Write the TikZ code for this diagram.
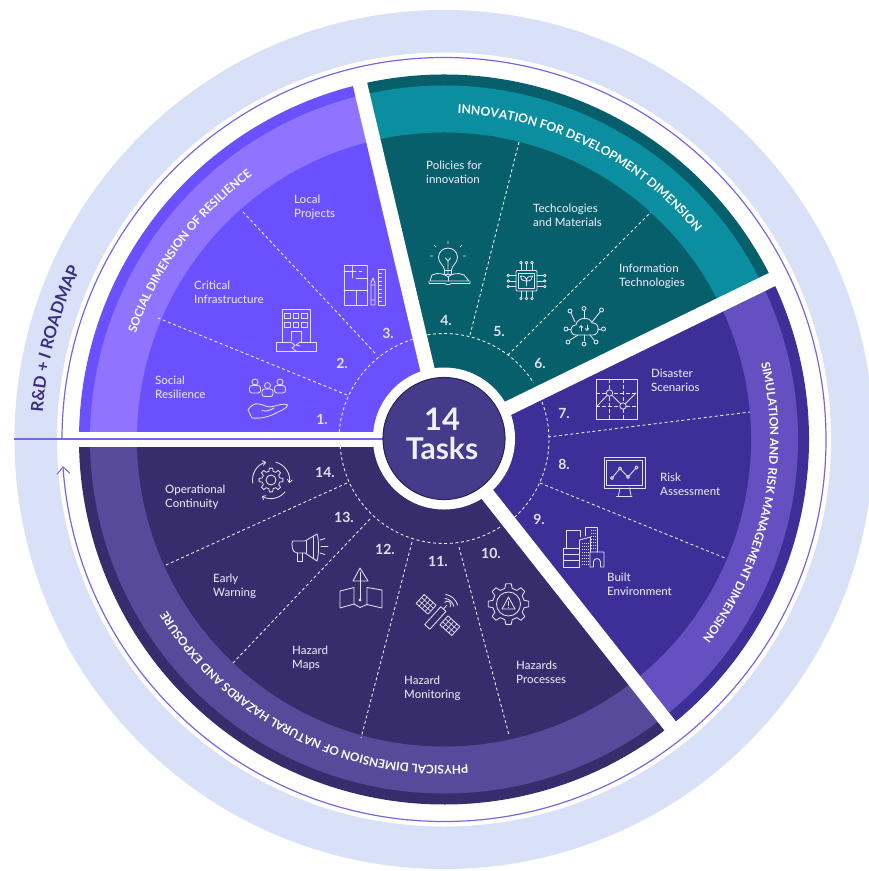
\documentclass[tikz,border=0pt]{standalone}
\usepackage{fontspec}
\setmainfont{Lato}
\newfontfamily\labfont{Lato Medium}
\usetikzlibrary{decorations.text,arrows.meta}
\definecolor{ringc}{HTML}{D9E1F8}
\definecolor{linec}{HTML}{7A66E0}
\definecolor{vedge}{HTML}{6A50FF}
\definecolor{vband}{HTML}{9074FF}
\definecolor{tedge}{HTML}{075F6C}
\definecolor{tband}{HTML}{0A8EA0}
\definecolor{pedge}{HTML}{3E2E98}
\definecolor{pband}{HTML}{6450C0}
\definecolor{dedge}{HTML}{372C6C}
\definecolor{dband}{HTML}{584A9A}
\definecolor{corec}{HTML}{463A8A}
\definecolor{coreline}{HTML}{2C2559}
\definecolor{labc}{HTML}{E4E2F2}
\definecolor{roadc}{HTML}{3B2F7F}
\newcommand{\wdg}[4]{\fill[#1] (0,0) -- (#2:#4) arc[start angle=#2,end angle=#3,radius=#4] -- cycle;}
\newcommand{\bandtext}[4]{\path[decorate,decoration={text along path,text align=center,text={|\fontsize{#4}{13}\selectfont\bfseries\color{white}|#3}}] (#1:326) arc[start angle=#1,end angle=#2,radius=326];}
\newcommand{\gearshape}[3]{\pgfmathsetmacro{\gw}{360/#3}\draw[icon] ({-0.30*\gw}:#2) \foreach \gi in {1,...,#3} { -- ({(\gi-1)*\gw-0.17*\gw}:#1) -- ({(\gi-1)*\gw+0.17*\gw}:#1) -- ({(\gi-1)*\gw+0.30*\gw}:#2) -- ({\gi*\gw-0.30*\gw}:#2)} -- cycle;}
\tikzset{
 lab/.style={anchor=west,align=left,inner sep=0pt,text=labc,font=\labfont\fontsize{11.5}{14}\selectfont},
 num/.style={inner sep=0pt,text=labc,font=\fontsize{14}{16}\selectfont\bfseries},
 dashl/.style={draw=white,line width=0.9pt,dash pattern=on 3pt off 2.6pt,opacity=0.9},
 icon/.style={draw=labc,line width=0.85pt,line join=round,line cap=round},
 gapline/.style={draw=white,line width=14.5pt}
}
\begin{document}
\begin{tikzpicture}[x=1pt,y=-1pt]
\useasboundingbox (0,0) rectangle (869,871);
\clip (0,0) rectangle (869,871);
\fill[white] (0,0) rectangle (869,871);
\begin{scope}[shift={(444,439.5)}]
\fill[ringc] (0,0) circle[radius=429.5];
\fill[white] (0,0) circle[radius=387];
\draw[linec,line width=1.2pt,-{Straight Barb[length=7pt,width=13pt,line width=1pt]}] (180:382) arc[start angle=180,end angle=536,radius=382];
% sectors
\wdg{vedge}{180}{256.7}{365}\wdg{vband}{180}{256.7}{354}\wdg{vedge}{180}{256.7}{307}
\wdg{tedge}{256.7}{334}{365}\wdg{tband}{256.7}{334}{354}\wdg{tedge}{256.7}{334}{307}
\wdg{pedge}{334}{411.7}{365}\wdg{pband}{334}{411.7}{354}\wdg{pedge}{334}{411.7}{307}
\wdg{dedge}{51.7}{180}{365}\wdg{dband}{51.7}{180}{354}\wdg{dedge}{51.7}{180}{307}
% white gaps
\draw[gapline] (0,0) -- (180:372);
\draw[gapline] (0,0) -- (256.7:372);
\draw[gapline] (0,0) -- (334:372);
\draw[gapline] (0,0) -- (51.7:372);
\fill[white] (0,-1) circle[radius=71];
% band titles
\bandtext{185}{248}{SOCIAL DIMENSION OF RESILIENCE}{11.8}
\bandtext{258}{335}{INNOVATION FOR DEVELOPMENT DIMENSION}{12.2}
\bandtext{-33}{57}{SIMULATION AND RISK MANAGEMENT DIMENSION}{11.8}
\bandtext{62}{172}{PHYSICAL DIMENSION OF NATURAL HAZARDS AND EXPOSURE}{11.8}
\path[decorate,decoration={text along path,text align=center,text={|\fontsize{16.8}{18}\selectfont\bfseries\color{roadc}|R{\&}D + |\fontsize{16.8}{18}\selectfont\bfseries\itshape\color{roadc}|I|\fontsize{16.8}{18}\selectfont\bfseries\color{roadc}| ROADMAP}}] (176:402) arc[start angle=176,end angle=213,radius=402];
% dashed inner arcs
\draw[dashl] (184:105) arc[start angle=184,end angle=252.5,radius=105];
\draw[dashl] (261:106) arc[start angle=261,end angle=327.6,radius=106];
\draw[dashl] (339:105) arc[start angle=339,end angle=408.7,radius=105];
\draw[dashl] (57.4:104) arc[start angle=57.4,end angle=176,radius=104];
\end{scope}
% dashed dividers
\draw[dashl] (347,395) -- (158,318);
\draw[dashl] (375,353) -- (243,212);
\draw[dashl] (470,335) -- (519,142);
\draw[dashl] (508,355) -- (651,212);
\draw[dashl] (548,437) -- (750,412);
\draw[dashl] (540,483) -- (725,558);
\draw[dashl] (347,483) -- (166,565);
\draw[dashl] (370,519) -- (233,663);
\draw[dashl] (412,542) -- (361,738);
\draw[dashl] (459,547) -- (509,735);
% horizontal line and centre
\draw[linec,line width=1.4pt] (14,439) -- (384,439);
\node[circle,minimum size=122pt,inner sep=0pt,fill=corec,draw=coreline,line width=1.1pt] (core) at (444,438.5) {};
\node[inner sep=0pt,text=labc!50!white,font=\fontsize{31}{31}\selectfont\bfseries] (t14) at (442,419) {14};
\node[inner sep=0pt,text=labc!50!white,font=\fontsize{30}{30}\selectfont\bfseries] (ttasks) at (442,448) {Tasks};
% labels
\node[lab] (l1) at (155,387.7) {Social\\Resilience};
\node[lab] (l2) at (194,292) {Critical\\Infrastructure};
\node[lab] (l3) at (294,207) {Local\\Projects};
\node[lab] (l4) at (426,172) {Policies for\\innovation};
\node[lab] (l5) at (533,215) {Techcologies\\and Materials};
\node[lab] (l6) at (619,276.5) {Information\\Technologies};
\node[lab] (l7) at (651,380.5) {Disaster\\Scenarios};
\node[lab] (l8) at (660,484) {Risk\\Assessment};
\node[lab] (l9) at (607,584) {Built\\Environment};
\node[lab] (l10) at (516,672) {Hazards\\Processes};
\node[lab] (l11) at (404,688) {Hazard\\Monitoring};
\node[lab] (l12) at (292,658) {Hazard\\Maps};
\node[lab] (l13) at (213,586) {Early\\Warning};
\node[lab] (l14) at (165,497) {Operational\\Continuity};
% numbers
\node[num] (n1) at (322,419) {1.};
\node[num] (n2) at (342,363) {2.};
\node[num] (n3) at (388,333) {3.};
\node[num] (n4) at (446,320) {4.};
\node[num] (n5) at (499,331) {5.};
\node[num] (n6) at (540,363) {6.};
\node[num] (n7) at (564,413) {7.};
\node[num] (n8) at (564,464) {8.};
\node[num] (n9) at (539,519) {9.};
\node[num] (n10) at (491,553) {10.};
\node[num] (n11) at (438,561) {11.};
\node[num] (n12) at (385,549) {12.};
\node[num] (n13) at (344,517) {13.};
\node[num] (n14) at (325,472) {14.};
% icon 1 people and hand
\foreach \cx/\cy in {255/382,280/382,267.5/385.5}{
 \draw[icon] (\cx,\cy) circle[radius=3];
 \draw[icon,rounded corners=2.5pt] (\cx-5.5,\cy+3.5) rectangle (\cx+5.5,\cy+11);
}
\draw[icon] (248,410) .. controls (251,405) and (255,403) .. (259,404) .. controls (264,405) and (268,408) .. (273,406.5) .. controls (278,405) and (285,403) .. (287.5,405) .. controls (288,408) and (280,411) .. (274,414) .. controls (266,418) and (258,418.5) .. (252,418) -- cycle;
\draw[icon] (262,410.5) .. controls (266,412) and (271,410) .. (274,408);
% icon 2 building
\draw[icon] (276,351) rectangle (316,342);
\draw[icon] (282,342) -- (282,309.5) -- (310,309.5) -- (310,342);
\foreach \wy in {313.5,322}{\foreach \wx in {284.5,293,301.5}{\draw[icon] (\wx,\wy) rectangle ++(5.5,5);}}
\draw[icon] (291,342) -- (291,331) -- (301,331) -- (301,342);
\draw[draw=vedge,line width=1.8pt] (291,342) -- (300,342);
\draw[icon] (291,342) -- (295,345.5) -- (292,348) -- (296,351);
\draw[icon] (300,342) -- (296,345) -- (300,346);
% icon 3 floor plan
\draw[icon] (344,265) rectangle (367,305);
\draw[icon] (344,271) -- (356,271) (359,271) -- (362,271);
\draw[icon] (352,265) -- (352,278);
\draw[icon] (344,290) -- (367,290);
\draw[icon] (356,278) -- (367,278);
\draw[icon] (356,290) -- (356,305);
\draw[icon] (371,305) -- (371,283) -- (373,278) -- (375,283) -- (375,305) -- cycle (371,285) -- (375,285) (371,300) -- (375,300);
\draw[icon] (378,269) rectangle (385,305);
\foreach \ty in {273,277,...,301}{\draw[draw=labc,line width=0.6pt] (378,\ty) -- (382,\ty);}
% icon 4 bulb and book
\draw[icon] (444.5,270) .. controls (444,265) and (438.5,263) .. (438.5,257.5) .. controls (438.5,245) and (457.5,245) .. (457.5,257.5) .. controls (457.5,263) and (452,265) .. (451.5,270);
\draw[icon] (444.5,270) rectangle (451.5,274);
\draw[icon] (448,274) -- (448,261) (445.5,258) -- (448,261) -- (450.5,258);
\draw[draw=labc,line width=0.7pt] (436,247) -- (434,245) (460,247) -- (462,245) (448,244) -- (448,241) (433,256) -- (430,256) (463,256) -- (466,256);
\draw[icon] (430,281) -- (432,275) .. controls (438,272) and (445,274) .. (448,277) .. controls (451,274) and (458,272) .. (464,275) -- (469,281) -- cycle;
\draw[icon] (429,281) -- (429,283.5) -- (445,283.5) .. controls (446,285) and (450,285) .. (451,283.5) -- (470,283.5) -- (470,281);
\draw[icon] (448,277) -- (448,281);
% icon 5 chip and plant
\draw[icon,rounded corners=1pt] (516,270.5) rectangle (537,291);
\draw[icon] (518.5,273) rectangle (534.5,288.5);
\foreach \d in {521,526.5,532}{
 \draw[icon] (\d,270.5) -- (\d,264); \draw[icon] (\d,262.6) circle[radius=1.3];
 \draw[icon] (\d,291) -- (\d,297); \draw[icon] (\d,298.4) circle[radius=1.3];
}
\foreach \d in {275.5,281,286.5}{
 \draw[icon] (516,\d) -- (509.5,\d); \draw[icon] (508.2,\d) circle[radius=1.3];
 \draw[icon] (537,\d) -- (543.5,\d); \draw[icon] (544.8,\d) circle[radius=1.3];
}
\draw[icon] (526.5,286) -- (526.5,280) (526.5,281) .. controls (521,281) and (520.5,278) .. (520.5,276) .. controls (524,276) and (526.5,277) .. (526.5,281) .. controls (526.5,277) and (529,276) .. (532.5,276) .. controls (532.5,279) and (531,281) .. (526.5,281);
% icon 6 cloud network
\draw[icon] (576,335) .. controls (569,335) and (569,325) .. (576,325) .. controls (577,317) and (590,316) .. (592,323) .. controls (600,322) and (600,335) .. (593,335) -- cycle;
\foreach \ax/\ay/\bx/\by in {584/319/584/311,575/322/571/313,592/322/600/312,571/329/568.5/329,598/329/601/329,578/335/570/340,590/335/594/340,584/335/584/341}{
 \draw[icon] (\ax,\ay) -- (\bx,\by);
}
\foreach \cx/\cy in {584/308.5,570/311,601.5/310,566/329,603.5/329,568/342,596/342,584/344}{\draw[icon] (\cx,\cy) circle[radius=2];}
\draw[icon,-{Straight Barb[length=2pt,width=3.5pt]}] (581,331) -- (581,325);
\draw[icon,-{Straight Barb[length=2pt,width=3.5pt]}] (587,325) -- (587,331);
% icon 7 scenario map
\draw[icon] (596,379) rectangle (637,419.5);
\draw[draw=labc,line width=0.85pt,dash pattern=on 4pt off 2pt] (609.5,379) -- (609.5,419) (623,379) -- (623,419) (596,393) -- (637,393) (596,406) -- (637,406);
\draw[icon] (597,406) -- (609.5,393) -- (623,406) -- (636,393);
\fill[pedge] (609.5,393) circle[radius=3.2] (623,406) circle[radius=3.2];
\draw[icon] (609.5,393) circle[radius=3.2] (623,406) circle[radius=3.2];
% icon 8 monitor
\draw[icon] (604,457.5) rectangle (645,488);
\draw[icon] (606.5,460) rectangle (642.5,485.5);
\draw[icon] (620,488) -- (618.5,495.5) (629.5,488) -- (631,495.5) (616.5,496.5) -- (632,496.5);
\draw[icon] (612,478) -- (620,468.5) -- (628,477) -- (636.5,467.5);
\foreach \cx/\cy in {612/478,620/468.5,628/477,636.5/467.5}{\fill[pedge] (\cx,\cy) circle[radius=1.5];\draw[icon] (\cx,\cy) circle[radius=1.5];}
% icon 9 buildings
\draw[icon] (566,548) -- (566,530.5) -- (580,530.5) -- (580,537);
\draw[icon] (585,536) -- (585,527.5) -- (597,527.5) -- (597,552);
\draw[icon] (579.5,567) -- (579.5,540) -- (590.5,537) -- (590.5,552);
\draw[icon] (563,548.5) rectangle (579.5,567);
\draw[draw=labc,line width=.8pt] (563,554.5) -- (579.5,554.5) (563,560.5) -- (579.5,560.5);
\draw[icon] (590,567) -- (590,552) -- (604,552) -- (604,567) -- (600.5,567) -- (600.5,562) arc[start angle=0,end angle=-180,radius=3.5] -- (593.5,567) -- cycle;
\foreach \dy in {543,546,...,564}{\draw[draw=labc,line width=.7pt,dash pattern=on .8pt off 1.2pt] (582,\dy) -- (589,\dy);}
\foreach \dy in {530,533,...,549}{\draw[draw=labc,line width=.7pt,dash pattern=on .8pt off 1.2pt] (591,\dy) -- (596,\dy);}
% icon 10 gear triangle
\begin{scope}[shift={(508.5,604)}]
\gearshape{20.5}{16}{8}
\draw[icon] (0,0) circle[radius=12];
\draw[icon] (0,-7) -- (6.5,5) -- (-6.5,5) -- cycle;
\draw[icon] (0,-2.5) -- (0,1.5) (0,3.3) -- (0,3.5);
\end{scope}
% icon 11 satellite
\begin{scope}[shift={(438,615)},rotate=-42]
\foreach \px in {-24,8}{
 \draw[icon] (\px,-6) rectangle ++(16,12);
 \draw[draw=labc,line width=.6pt] (\px+4,-6) -- (\px+4,6) (\px+8,-6) -- (\px+8,6) (\px+12,-6) -- (\px+12,6) (\px,-2) -- (\px+16,-2) (\px,2) -- (\px+16,2);
}
\draw[icon] (-3.5,-8) rectangle (3.5,16);
\draw[icon] (0,-8) -- (0,-13);
\draw[icon] (-3.5,-14) arc[start angle=180,end angle=360,radius=3.5];
\draw[icon] (-6,-17) .. controls (-3,-19.5) and (3,-19.5) .. (6,-17);
\draw[icon] (-8,-20.5) .. controls (-3,-23.5) and (3,-23.5) .. (8,-20.5);
\end{scope}
% icon 12 map and arrow
\draw[icon] (340,591) -- (354,587.5) -- (354,604) -- (340,608) -- cycle;
\draw[icon] (367,587.5) -- (382,590) -- (382,608) -- (367,604.5);
\draw[icon] (354,604) -- (360,607.5) -- (367,604.5) -- (367,587.5);
\draw[icon] (360,600) -- (360,572);
\draw[icon] (360,568) -- (368,581) -- (353,581) -- cycle;
\draw[icon] (360,600) circle[radius=1];
% icon 13 megaphone
\draw[icon] (292.5,541) -- (305,541) -- (317,534) .. controls (319,538) and (319,556) .. (317,561) -- (305,553) -- (297,553) .. controls (291.5,553) and (291.5,543) .. (292.5,541) -- cycle;
\draw[icon] (306,541) -- (306,553);
\draw[icon] (313,536.5) -- (313,558.5);
\draw[icon] (297,553) -- (297,561.5) -- (302,561.5) -- (302,553);
\draw[icon] (320,540) -- (325,538.5) (321,546.5) -- (328,546.5) (320,553) -- (325,554.5);
% icon 14 gear and arrows
\begin{scope}[shift={(271,480)}]
\gearshape{12}{9}{8}
\draw[icon] (0,0) circle[radius=5];
\draw[icon,-{Straight Barb[length=3pt,width=5pt]}] (-75:18.5) arc[start angle=-75,end angle=10,radius=18.5];
\draw[icon,-{Straight Barb[length=3pt,width=5pt]}] (40:18.5) arc[start angle=40,end angle=120,radius=18.5];
\draw[icon,-{Straight Barb[length=3pt,width=5pt]}] (170:18.5) arc[start angle=170,end angle=255,radius=18.5];
\end{scope}
\end{tikzpicture}
\end{document}
